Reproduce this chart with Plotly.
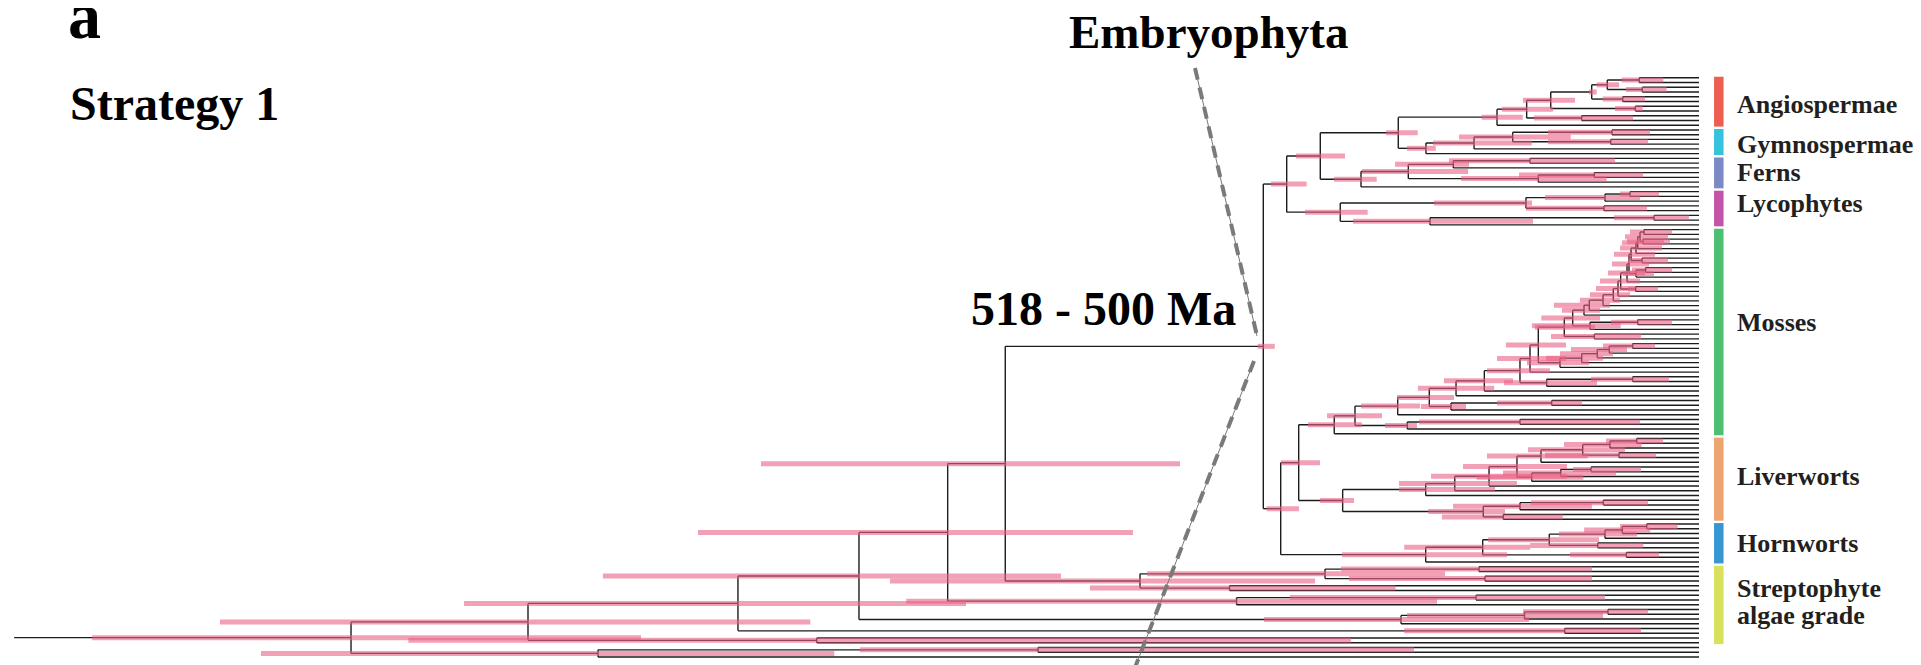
import plotly.graph_objects as go

# ---------------- data (ages in Ma) ----------------
TIP_AGE = 0.0
ROOT_STEM_AGE = 1966.0

# internal nodes: (name, upper child, lower child, age, 95% HPD old, 95% HPD young); tips are "t<k>"
ANGIOSPERMAE = [
    ("a1", "t0", "t1", 69.7, 90.2, 41.7),
    ("a2", "t2", "t3", 66.2, 85.2, 37.7),
    ("a3", "a1", "a2", 107.0, 119.4, 93.3),
    ("a4", "t4", "t5", 89.0, 112.4, 63.0),
    ("a5", "a3", "a4", 125.2, 128.4, 119.4),
    ("a6", "t6", "t7", 74.3, 98.0, 65.7),
    ("a7", "a5", "a6", 173.0, 205.4, 144.7),
    ("a8", "t8", "t9", 136.9, 192.5, 77.0),
    ("a9", "a7", "a8", 201.1, 229.9, 170.4),
    ("a10", "a9", "t10", 235.7, 253.6, 205.7),
]
GYMNOSPERMAE = [
    ("g1", "t11", "t12", 101.5, 176.2, 57.2),
    ("g2", "t13", "t14", 103.0, 176.2, 59.5),
    ("g3", "g1", "g2", 217.4, 280.0, 149.7),
    ("g4", "g3", "t15", 262.5, 310.4, 195.2),
    ("g5", "g4", "t16", 318.6, 340.7, 307.2),
]
FERNS = [
    ("f1", "t17", "t18", 197.2, 291.7, 98.0),
    ("f2", "f1", "t19", 286.7, 354.7, 268.4),
    ("f3", "t20", "t21", 122.2, 210.0, 65.3),
    ("f4", "f3", "t22", 187.5, 277.7, 107.7),
    ("f5", "f2", "f4", 339.2, 393.2, 269.5),
    ("f6", "f5", "t23", 394.4, 425.9, 376.1),
]
LYCOPHYTES = [
    ("l1", "t24", "t25", 80.5, 92.2, 46.7),
    ("l2", "l1", "t26", 109.7, 179.7, 68.8),
    ("l3", "t27", "t28", 110.9, 201.9, 60.7),
    ("l4", "l2", "l3", 201.9, 309.2, 194.9),
    ("l5", "t29", "t30", 52.5, 99.2, 11.7),
    ("l6", "l5", "t31", 313.9, 403.7, 193.7),
    ("l7", "l4", "l6", 418.6, 459.7, 386.6),
]
MOSSES = [
    ("c1", "t32", "t33", 64.2, 80.5, 31.5),
    ("c2", "t34", "t35", 65.3, 84.0, 33.8),
    ("c3", "c1", "c2", 68.8, 86.3, 36.2),
    ("c4", "c3", "t36", 71.5, 89.9, 40.8),
    ("c5", "c4", "t37", 73.5, 92.2, 43.2),
    ("c6", "t38", "t39", 66.5, 82.8, 36.2),
    ("c7", "c5", "c6", 79.3, 99.2, 51.3),
    ("c8", "t40", "t41", 62.3, 78.2, 31.5),
    ("c9", "c8", "t42", 73.5, 88.7, 52.5),
    ("c10", "c7", "c9", 81.7, 101.5, 58.3),
    ("c11", "c10", "t43", 84.0, 106.2, 63.0),
    ("c12", "t44", "t45", 73.9, 82.8, 47.8),
    ("c13", "c11", "c12", 91.4, 115.5, 68.8),
    ("c14", "c13", "t46", 94.5, 120.2, 74.7),
    ("c15", "c14", "t47", 100.0, 127.2, 80.5),
    ("c16", "c15", "t48", 112.0, 138.9, 92.2),
    ("m_r", "c16", "t49", 128.0, 169.2, 103.9),
    ("m_t", "m_r", "t50", 134.2, 159.9, 115.5),
    ("m713", "t51", "t52", 71.5, 102.7, 31.5),
    ("m_s", "m713", "t53", 127.2, 195.0, 91.4),
    ("m_v", "m_t", "m_s", 147.4, 184.0, 115.5),
    ("m_u", "t54", "t55", 122.2, 172.7, 67.7),
    ("m_w", "m_v", "m_u", 157.2, 191.4, 121.4),
    ("m698", "t56", "t57", 77.4, 112.0, 51.3),
    ("m628", "m698", "t58", 104.7, 149.4, 84.0),
    ("m592", "m628", "t59", 118.7, 162.2, 100.4),
    ("m545", "m592", "t60", 136.9, 178.5, 112.0),
    ("m480", "m545", "t61", 162.2, 200.7, 128.4),
    ("m415", "m_w", "m480", 187.5, 225.2, 155.2),
    ("m_x", "m415", "t62", 197.2, 235.7, 155.2),
    ("m1632", "t63", "t64", 77.4, 126.0, 35.0),
    ("m1546", "m1632", "t65", 177.7, 227.5, 119.0),
    ("m1520b", "m_x", "m1546", 208.9, 247.4, 174.0),
    ("m1484", "m1520b", "t66", 250.5, 297.6, 217.0),
    ("m1456", "m1484", "t67", 283.5, 328.0, 239.0),
    ("m1551", "t68", "t69", 171.9, 235.7, 136.6),
    ("m1451", "m1551", "t70", 289.4, 324.4, 271.9),
    ("m1429", "m1456", "m1451", 314.7, 352.4, 285.9),
    ("m1397", "m1429", "t71", 351.6, 394.4, 325.6),
    ("m1520", "t72", "t73", 208.9, 326.7, 68.8),
    ("m1407", "m1520", "t74", 340.4, 366.4, 329.1),
    ("m1355", "m1397", "m1407", 401.4, 434.0, 369.9),
    ("moss", "m1355", "t75", 425.6, 456.2, 393.2),
]
LIVERWORTS = [
    ("v1", "t76", "t77", 72.7, 108.5, 42.0),
    ("v2", "v1", "t78", 103.9, 157.5, 66.9),
    ("v3", "t79", "t80", 93.4, 179.7, 50.2),
    ("v4", "v2", "v3", 135.7, 199.5, 86.4),
    ("v5", "v4", "t81", 184.4, 247.4, 129.9),
    ("v6", "t82", "t83", 126.0, 147.0, 67.7),
    ("v7", "v6", "t84", 161.4, 228.7, 96.9),
    ("v8", "v7", "t85", 195.2, 259.4, 135.0),
    ("v9", "v5", "v8", 212.4, 275.4, 154.0),
    ("v10", "v9", "t86", 245.0, 312.7, 154.0),
    ("v11", "v10", "t87", 285.0, 350.0, 212.4),
    ("v12", "v11", "t88", 318.9, 350.0, 238.0),
    ("v13", "t89", "t90", 111.7, 196.0, 59.5),
    ("v14", "v13", "t91", 208.9, 287.0, 125.0),
    ("v15", "t92", "t93", 228.4, 300.0, 159.0),
    ("v16", "v14", "v15", 251.7, 316.0, 226.4),
    ("v17", "v12", "v16", 415.8, 442.3, 402.6),
]
HORNWORTS = [
    ("h1", "t94", "t95", 61.0, 92.2, 24.9),
    ("h2", "h1", "t96", 89.5, 134.0, 57.0),
    ("h3", "h2", "t97", 109.7, 163.4, 72.3),
    ("h4", "t98", "t99", 118.2, 197.0, 65.0),
    ("h5", "h3", "h4", 174.7, 246.0, 116.7),
    ("h6", "t100", "t101", 84.8, 150.5, 46.7),
    ("h7", "h5", "h6", 252.4, 344.0, 197.0),
    ("h8", "h7", "t102", 318.9, 416.6, 224.0),
]
BACKBONE = [
    ("seed", "a10", "g5", 350.9, 365.2, 328.2),
    ("eu", "seed", "f6", 441.9, 470.2, 413.1),
    ("trach", "eu", "l7", 481.1, 499.4, 457.8),
    ("setaphyta", "moss", "v17", 467.1, 487.8, 442.3),
    ("bryo", "setaphyta", "h8", 488.1, 504.5, 466.8),
    ("embryo", "trach", "bryo", 508.4, 514.9, 495.0),
]
ALGAE_AND_ROOT = [
    ("s1", "t103", "t104", 256.7, 417.8, 124.9),
    ("s2", "t105", "t106", 249.7, 408.4, 124.9),
    ("s3", "s1", "s2", 436.4, 644.0, 296.4),
    ("s4", "t107", "t108", 547.8, 710.6, 354.0),
    ("s5", "s3", "s4", 652.3, 944.0, 448.0),
    ("n1005", "embryo", "s5", 809.5, 1094.5, 605.6),
    ("s6", "t109", "t110", 260.2, 477.3, 109.7),
    ("s7", "s6", "t111", 539.6, 925.0, 305.7),
    ("n947", "n1005", "s7", 876.7, 1168.0, 660.5),
    ("s8", "t112", "t113", 106.2, 205.4, 59.5),
    ("s9", "s8", "t114", 203.6, 340.7, 112.0),
    ("s10", "s9", "t115", 347.7, 507.6, 198.4),
    ("n859", "n947", "s10", 980.2, 1279.0, 744.5),
    ("s11", "t116", "t117", 156.7, 344.0, 67.7),
    ("n738", "n859", "s11", 1121.4, 1441.0, 855.3),
    ("s12", "t118", "t119", 1029.5, 1506.0, 406.0),
    ("n528", "n738", "s12", 1366.4, 1725.8, 1037.0),
    ("o1", "t120", "t121", 771.3, 979.0, 332.6),
    ("n598", "o1", "t122", 1284.7, 1678.0, 1009.0),
    ("root", "n528", "n598", 1572.9, 1875.0, 1234.6),
]

CLADE_NAMES = ["Angiospermae", "Gymnospermae", "Ferns", "Lycophytes", "Mosses",
               "Liverworts", "Hornworts", "Streptophyte|algae grade"]
CLADE_FIRST_TIP = ["t0", "t11", "t17", "t24", "t32", "t76", "t94", "t103"]
CLADE_LAST_TIP = ["t10", "t16", "t23", "t31", "t75", "t93", "t102", "t119"]
CLADE_COLORS = ["#EC5E4F", "#36C1DC", "#7B89C5", "#C553A8", "#4EBF72",
                "#EEA46F", "#3796D2", "#D7E15B"]
CLADE_LABEL_SHIFT = [0.5, 0.5, 0.0, -1.0, -2.0, -0.5, 0.0, -0.7]

CROWN_NODE = "embryo"
CROWN_LABEL = "518 - 500 Ma"
CROWN_TITLE = "Embryophyta"

# ---------------- layout helpers ----------------
W, H = 1921, 665
PAGE_OFFSET = 8.0          # default body margin of the html page
PX_PER_MA = 0.857
TIP_PX = 1699.0 - PAGE_OFFSET
LEAF0_PX = 77.7 - PAGE_OFFSET
LEAF_STEP_PX = 4.748

nodes = {}
for group in [ANGIOSPERMAE, GYMNOSPERMAE, FERNS, LYCOPHYTES, MOSSES, LIVERWORTS,
              HORNWORTS, BACKBONE, ALGAE_AND_ROOT]:
    for name, c1, c2, age, old, young in group:
        nodes[name] = {"children": [c1, c2], "age": age, "ci": (old, young)}

ypos, agepos = {}, {}
counter = [0]


def place(n):
    if n not in nodes:
        ypos[n] = counter[0]
        agepos[n] = TIP_AGE
        counter[0] += 1
        return ypos[n]
    ys = [place(c) for c in nodes[n]["children"]]
    ypos[n] = (ys[0] + ys[-1]) / 2.0
    agepos[n] = nodes[n]["age"]
    return ypos[n]


place("root")

# branches
bx, by = [], []
for n, d in nodes.items():
    c1, c2 = d["children"]
    bx += [d["age"], d["age"], None]
    by += [ypos[c1], ypos[c2], None]
    for c in d["children"]:
        bx += [d["age"], agepos[c], None]
        by += [ypos[c], ypos[c], None]
bx += [ROOT_STEM_AGE, nodes["root"]["age"], None]
by += [ypos["root"], ypos["root"], None]

fig = go.Figure()
fig.add_trace(go.Scatter(x=bx, y=by, mode="lines",
                         line=dict(color="#1c1c1c", width=1.4),
                         hoverinfo="skip", showlegend=False))

# HPD bars (each separate so overlaps darken)
for n, d in nodes.items():
    old, young = d["ci"]
    fig.add_trace(go.Scatter(x=[old, young], y=[ypos[n], ypos[n]], mode="lines",
                             line=dict(color="rgba(234,96,132,0.6)", width=5),
                             hoverinfo="skip", showlegend=False))

# pointer lines to crown node
ex, ey = agepos[CROWN_NODE], ypos[CROWN_NODE]
ma = 1.0 / PX_PER_MA
un = 1.0 / LEAF_STEP_PX
pointer_segments = [
    [(ex + 68.3 * ma, ey - 278.4 * un), (ex + 6.3 * ma, ey - 10.4 * un)],
    [(ex + 9.3 * ma, ey + 14.6 * un), (ex + 133.1 * ma, ey + 333.6 * un)],
]
for seg in pointer_segments:
    xs = [p[0] for p in seg]
    ys = [p[1] for p in seg]
    fig.add_trace(go.Scatter(x=xs, y=ys, mode="lines",
                             line=dict(color="#777777", width=1),
                             hoverinfo="skip", showlegend=False))
    fig.add_trace(go.Scatter(x=xs, y=ys, mode="lines",
                             line=dict(color="#7a7a7a", width=4, dash="12px,8px"),
                             hoverinfo="skip", showlegend=False))

# clade bars and labels
BAR_AGE = -(1718.8 - 1699.0) / PX_PER_MA
LABEL_AGE = -(1735.0 - 1699.0) / PX_PER_MA
annotations = []
for name, first, last, col, sh in zip(CLADE_NAMES, CLADE_FIRST_TIP, CLADE_LAST_TIP,
                                      CLADE_COLORS, CLADE_LABEL_SHIFT):
    y0, y1 = ypos[first] - 0.2, ypos[last] + 0.3
    fig.add_trace(go.Scatter(x=[BAR_AGE, BAR_AGE], y=[y0, y1], mode="lines",
                             line=dict(color=col, width=9.5),
                             hoverinfo="skip", showlegend=False))
    lines = name.split("|")
    yc = (y0 + y1) / 2 + sh
    step = 27.0 / LEAF_STEP_PX
    for i, ln in enumerate(lines):
        yy = yc + (i - (len(lines) - 1) / 2.0) * step
        annotations.append(dict(x=LABEL_AGE, y=yy, xref="x", yref="y", text="<b>%s</b>" % ln,
                                showarrow=False, xanchor="left", yanchor="middle",
                                font=dict(family="Liberation Serif", size=26, color="#231f20")))


def px(xp):
    return (xp - PAGE_OFFSET) / W


def py(yp):
    return 1 - (yp - PAGE_OFFSET) / H


serif = "Liberation Serif"
annotations += [
    dict(x=px(66), y=py(15.5), xref="paper", yref="paper", text="<b>a</b>",
         showarrow=False, xanchor="left", yanchor="middle",
         font=dict(family=serif, size=66, color="#000000")),
    dict(x=px(68), y=py(103.8), xref="paper", yref="paper", text="<b>Strategy 1</b>",
         showarrow=False, xanchor="left", yanchor="middle",
         font=dict(family=serif, size=48, color="#000000")),
    dict(x=px(1067), y=py(31.5), xref="paper", yref="paper", text="<b>%s</b>" % CROWN_TITLE,
         showarrow=False, xanchor="left", yanchor="middle",
         font=dict(family=serif, size=47, color="#000000")),
    dict(x=ex + 30.0, y=ey - 37.6 * un, xref="x", yref="y", text="<b>%s</b>" % CROWN_LABEL,
         showarrow=False, xanchor="right", yanchor="middle",
         font=dict(family=serif, size=48, color="#000000")),
]

fig.update_layout(
    width=W, height=H,
    margin=dict(l=0, r=0, t=0, b=0),
    paper_bgcolor="white", plot_bgcolor="white",
    xaxis=dict(range=[TIP_PX / PX_PER_MA, (TIP_PX - W) / PX_PER_MA], visible=False,
               showgrid=False, zeroline=False, fixedrange=True),
    yaxis=dict(range=[(H - LEAF0_PX) / LEAF_STEP_PX, -LEAF0_PX / LEAF_STEP_PX], visible=False,
               showgrid=False, zeroline=False, fixedrange=True),
    annotations=annotations,
    showlegend=False,
)

fig.write_html("out.html")
